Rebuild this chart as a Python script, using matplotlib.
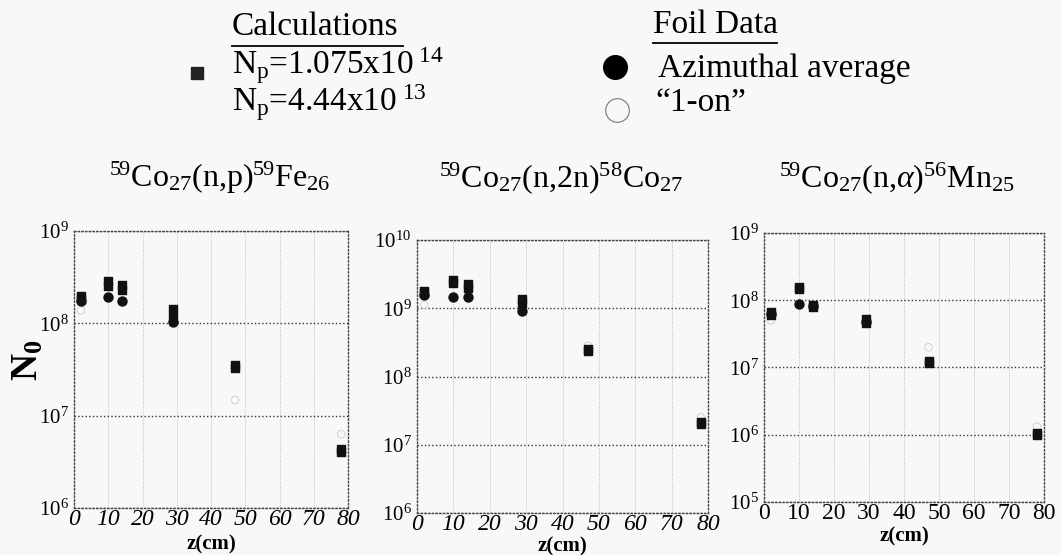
import matplotlib.pyplot as plt
import numpy as np

plt.rcParams['font.family'] = ['Liberation Serif', 'DejaVu Serif']
plt.rcParams['mathtext.fontset'] = 'custom'
plt.rcParams['mathtext.rm'] = 'Liberation Serif'
plt.rcParams['mathtext.it'] = 'Liberation Serif:italic'
plt.rcParams['mathtext.bf'] = 'Liberation Serif:bold'

# Data (log10 of N_0)
z_calc = [2, 10, 14, 29, 47, 78]
z_foil = [2, 10, 14, 29]

titles = [r'$^{59}$Co$_{27}$(n,p)$^{59}$Fe$_{26}$',
          r'$^{59}$Co$_{27}$(n,2n)$^{58}$Co$_{27}$',
          r'$^{59}$Co$_{27}$(n,$\alpha$)$^{56}$Mn$_{25}$']

calc_hi = [[8.30, 8.46, 8.42, 8.15, 7.55, 6.64],
           [9.25, 9.42, 9.36, 9.14, 8.40, 7.33],
           [7.82, 8.20, 7.93, 7.72, 7.10, 6.02]]
calc_lo = [[8.26, 8.40, 8.36, 8.06, 7.52, 6.61],
           [9.22, 9.37, 9.30, 9.08, 8.37, 7.30],
           [7.78, 8.16, 7.90, 7.66, 7.06, 5.99]]
foil_avg = [[8.24, 8.28, 8.24, 8.01],
            [9.20, 9.16, 9.17, 8.96],
            [7.80, 7.94, 7.91, 7.68]]
z_one = [2, 47, 78]
foil_one = [[8.14, 7.17, 6.80],
            [9.05, 8.45, 7.40],
            [7.70, 7.30, 6.12]]

ylims = [(6, 9), (6, 10), (5, 9)]
# axes boxes in pixels: left, right, top, bottom
boxes = [(74, 348, 231, 508), (417, 708, 240, 513), (764, 1044, 233, 502)]
title_x = [220, 561, 897]
xlabel_y = [544, 546, 536]
xtick_style = ['italic', 'italic', 'normal']

W, H = 1062, 555
fig = plt.figure(figsize=(W / 100, H / 100), dpi=100)
fig.patch.set_facecolor('#f7f8f7')

for i in range(3):
    l, r, t, b = boxes[i]
    ax = fig.add_axes([l / W, 1 - b / H, (r - l) / W, (b - t) / H])
    ax.set_facecolor('#f7f8f7')
    ax.set_yscale('log')
    ax.set_xlim(0, 80)
    ax.set_ylim(10 ** ylims[i][0], 10 ** ylims[i][1])
    ax.scatter(z_calc, np.power(10.0, calc_hi[i]), marker='s', s=36, color='#111111', zorder=3)
    ax.scatter(z_calc, np.power(10.0, calc_lo[i]), marker='s', s=36, color='#111111', zorder=3)
    ax.scatter(z_foil, np.power(10.0, foil_avg[i]), marker='o', s=42, color='#111111', zorder=3)
    ax.scatter(z_one, np.power(10.0, foil_one[i]), marker='o', s=30, facecolor='none',
               edgecolor='#cccccc', linewidth=0.6, zorder=2)
    ax.set_xticks(range(0, 81, 10))
    ax.set_yticks([10.0 ** k for k in range(ylims[i][0], ylims[i][1] + 1)])
    ax.set_yticklabels([r'$10^{%d}$' % k for k in range(ylims[i][0], ylims[i][1] + 1)])
    ax.minorticks_off()
    ax.tick_params(axis='x', length=0, labelsize=17, pad=1)
    ax.tick_params(axis='y', length=0, labelsize=15, pad=4)
    for lab in ax.get_xticklabels():
        lab.set_fontstyle(xtick_style[i])
    ax.grid(axis='y', linestyle=':', color='#333333', linewidth=1.0)
    ax.grid(axis='x', linestyle=':', color='#bbbbbb', linewidth=0.7)
    for sp in ax.spines.values():
        sp.set_linestyle(':')
        sp.set_color('#444444')
        sp.set_linewidth(1.0)
    fig.text((l + r) / 2 / W, 1 - xlabel_y[i] / H, 'z(cm)', fontsize=15, fontweight='bold',
             ha='center', va='center')
    fig.text(title_x[i] / W, 1 - 187 / H, titles[i], fontsize=23, ha='center', va='baseline')

fig.text(28 / W, 1 - 360 / H, r'$\mathbf{N_0}$', fontsize=27, rotation=90, ha='center', va='center')

# legend block
fig.text(232 / W, 1 - 35 / H, 'Calculations', fontsize=24, va='baseline')
fig.add_artist(plt.Line2D([232 / W, 403 / W], [1 - 46 / H, 1 - 46 / H], color='black', lw=1.3))
fig.text(232 / W, 1 - 74 / H, r'N$_{\rm p}$=1.075x10$^{\ 14}$', fontsize=24, va='baseline')
fig.text(232 / W, 1 - 111 / H, r'N$_{\rm p}$=4.44x10$^{\ 13}$', fontsize=24, va='baseline')
fig.add_artist(plt.Line2D([197 / W], [1 - 73 / H], marker='s', markersize=9, color='#222222'))

fig.text(653 / W, 1 - 33 / H, 'Foil Data', fontsize=24, va='baseline')
fig.add_artist(plt.Line2D([653 / W, 777 / W], [1 - 43 / H, 1 - 43 / H], color='black', lw=1.3))
fig.add_artist(plt.Line2D([615 / W], [1 - 67 / H], marker='o', markersize=17, color='black'))
fig.text(658 / W, 1 - 77 / H, 'Azimuthal average', fontsize=24, va='baseline')
fig.add_artist(plt.Line2D([617 / W], [1 - 110 / H], marker='o', markersize=17,
                          markerfacecolor='none', markeredgecolor='#777777', markeredgewidth=0.8))
fig.text(655 / W, 1 - 111 / H, '\u201c1-on\u201d', fontsize=24, va='baseline')

fig.savefig('out.png', dpi=100, facecolor=fig.get_facecolor())
